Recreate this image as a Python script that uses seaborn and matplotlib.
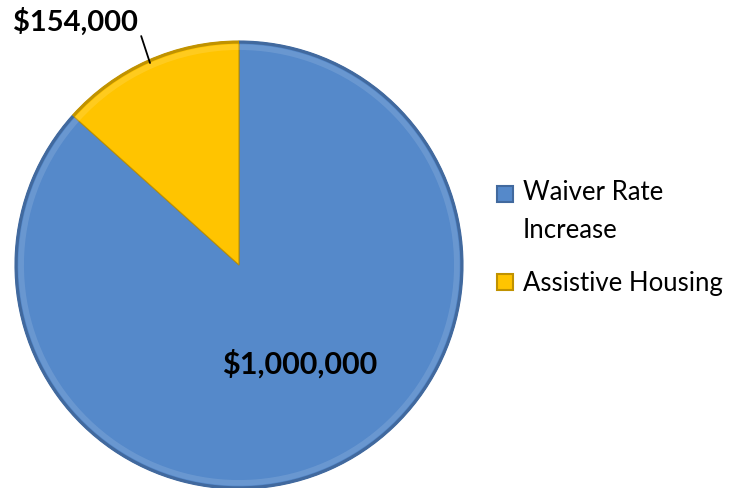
import matplotlib
matplotlib.use("Agg")
import matplotlib.pyplot as plt
import seaborn as sns
from matplotlib.patches import Wedge
from matplotlib.lines import Line2D
from matplotlib.legend_handler import HandlerLine2D

categories = ["Waiver Rate\nIncrease", "Assistive Housing"]
values = [1000000, 154000]
value_labels = ["$1,000,000", "$154,000"]
colors = ["#5589CA", "#FFC400"]
edge_colors = ["#41699E", "#C09200"]

sns.set_theme(style="white")
plt.rcParams['font.family'] = ['Lato', 'DejaVu Sans']
plt.rcParams['text.color'] = 'black'

W, H = 729, 488
fig = plt.figure(figsize=(W / 100, H / 100), dpi=100)
cx, cy, r = 239, 265, 224
ax = fig.add_axes([(cx - r) / W, (H - cy - r) / H, 2 * r / W, 2 * r / H])

wedges, _ = ax.pie(values, colors=colors, startangle=90, counterclock=False,
                   radius=1.0, wedgeprops=dict(linewidth=0))
# subtle bevel effect: darker rim and light inner highlight
for w, ec in zip(wedges, edge_colors):
    ring = Wedge((0, 0), 1.0, w.theta1, w.theta2, width=0.012, color=ec, lw=0)
    ax.add_patch(ring)
    hl = Wedge((0, 0), 0.985, w.theta1, w.theta2, width=0.025, color="white", alpha=0.12, lw=0)
    ax.add_patch(hl)
    w.set_edgecolor(ec)
    w.set_linewidth(0.8)

ax.set_xlim(-1, 1)
ax.set_ylim(-1, 1)
ax.set_aspect("equal")
ax.axis("off")

def px(x, y):
    return ((x - cx) / r, (cy - y) / r)

# inside label
ax.text(*px(300, 364), value_labels[0], ha="center", va="center",
        fontsize=22, fontweight="bold", color="black")
# outside label with leader line
ax.annotate(value_labels[1], xy=px(150, 63), xytext=px(75, 22),
            ha="center", va="center", fontsize=21, fontweight="bold",
            color="black", annotation_clip=False,
            arrowprops=dict(arrowstyle="-", color="black", lw=1.3,
                            shrinkA=0, shrinkB=0,
                            relpos=(1.03, 0.0)))


class TopAlignedHandler(HandlerLine2D):
    def __init__(self, shift, **kw):
        super().__init__(**kw)
        self.shift = shift

    def create_artists(self, legend, orig_handle, xdescent, ydescent,
                       width, height, fontsize, trans):
        arts = super().create_artists(legend, orig_handle, xdescent, ydescent,
                                      width, height, fontsize, trans)
        for a in arts:
            a.set_ydata([y + self.shift for y in a.get_ydata()])
        return arts


handles = [Line2D([0], [0], marker="s", linestyle="none", markersize=11,
                  markerfacecolor=c, markeredgecolor=e, markeredgewidth=1.5)
           for c, e in zip(colors, edge_colors)]
leg = fig.legend(handles, categories, loc="center left",
                 bbox_to_anchor=(484 / W, (H - 238) / H), frameon=False,
                 fontsize=18.5, handletextpad=0.3, labelspacing=1.1,
                 handlelength=0.8, borderaxespad=0,
                 handler_map={handles[0]: TopAlignedHandler(shift=13)})
for t in leg.get_texts():
    t.set_linespacing(1.65)
    t.set_color("black")

fig.savefig("out.png", dpi=100)
